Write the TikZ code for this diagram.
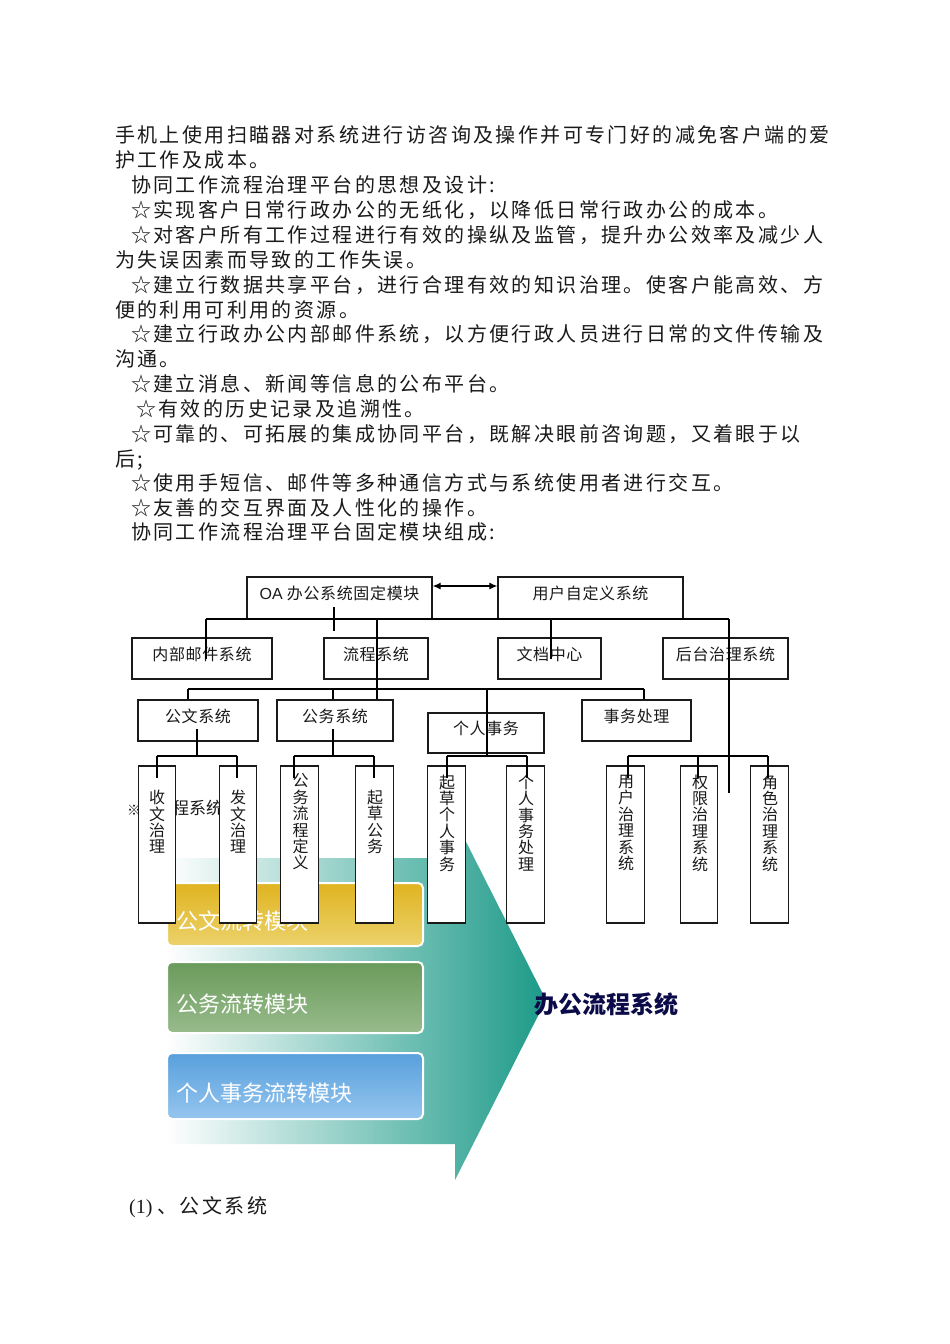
\documentclass[tikz,border=0pt]{standalone}
\usepackage{fontspec}
\setmainfont{Liberation Serif}
\newfontfamily\bodyfont[LetterSpace=12]{Noto Sans CJK SC}
\newfontfamily\chartfont[LetterSpace=4]{Noto Sans CJK SC}
\newfontfamily\cjk{Noto Sans CJK SC}
\newfontfamily\arialfont{Liberation Sans}
\usetikzlibrary{arrows.meta}
\definecolor{tealdark}{HTML}{1C9A88}
\definecolor{tealmid}{HTML}{86CDC3}
\definecolor{ytop}{HTML}{E0B420}
\definecolor{ybot}{HTML}{ECD26C}
\definecolor{gtop}{HTML}{6A9B5B}
\definecolor{gbot}{HTML}{98BB8C}
\definecolor{btop}{HTML}{58A0DD}
\definecolor{bbot}{HTML}{95C5EE}
\definecolor{navy}{HTML}{0B0B4A}
\definecolor{ink}{HTML}{1A1A1A}
\begin{document}
\begin{tikzpicture}[x=1pt,y=-1pt,
  body/.style={font=\bodyfont\fontsize{20}{20}\selectfont, inner sep=0, anchor=base west, text=ink},
  cbox/.style={draw=ink, line width=1.3pt, fill=white, inner sep=0,
    font=\chartfont\fontsize{16}{16}\selectfont, text=ink,
    text height=11pt, text depth=8pt},
  leaf/.style={draw=ink, line width=1.3pt, fill=white, inner sep=0,
    minimum width=37.5pt, minimum height=157pt},
  leaftext/.style={font=\cjk\fontsize{16}{16.4}\selectfont, align=center, inner sep=0, text=ink},
  conn/.style={line width=1.2pt, black},
  modbox/.style={rounded corners=5pt, draw=white, line width=2pt, minimum width=256pt,
    text width=238pt, align=left, inner xsep=9pt, inner ysep=0pt,
    font=\cjk\fontsize{22}{22}\selectfont, text=white, text height=32pt, text depth=2pt}
]
\useasboundingbox (0,0) rectangle (950,1344);
\fill[white] (0,0) rectangle (950,1344);

% ---------------- body text ----------------
\node[body] (p1) at (115,142) {手机上使用扫瞄器对系统进行访咨询及操作并可专门好的减免客户端的爱};
\node[body] (p2) at (115,167) {护工作及成本。};
\node[body] (p3) at (131,192) {协同工作流程治理平台的思想及设计:};
\node[body] (p4) at (131,217) {☆实现客户日常行政办公的无纸化，以降低日常行政办公的成本。};
\node[body] (p5) at (131,242) {☆对客户所有工作过程进行有效的操纵及监管，提升办公效率及减少人};
\node[body] (p6) at (115,267) {为失误因素而导致的工作失误。};
\node[body] (p7) at (131,292) {☆建立行数据共享平台，进行合理有效的知识治理。使客户能高效、方};
\node[body] (p8) at (115,317) {便的利用可利用的资源。};
\node[body] (p9) at (131,341) {☆建立行政办公内部邮件系统，以方便行政人员进行日常的文件传输及};
\node[body] (p10) at (115,366) {沟通。};
\node[body] (p11) at (131,391) {☆建立消息、新闻等信息的公布平台。};
\node[body] (p12) at (136,416) {☆有效的历史记录及追溯性。};
\node[body] (p13) at (131,441) {☆可靠的、可拓展的集成协同平台，既解决眼前咨询题，又着眼于以};
\node[body] (p14) at (115,466) {后;};
\node[body] (p15) at (131,490) {☆使用手短信、邮件等多种通信方式与系统使用者进行交互。};
\node[body] (p16) at (131,515) {☆友善的交互界面及人性化的操作。};
\node[body] (p17) at (131,539) {协同工作流程治理平台固定模块组成:};

% ---------------- arrow graphic ----------------
\shade[left color=white, middle color=tealmid, right color=tealdark]
  (166,858) -- (455,858) -- (455,820) -- (546,1000) -- (455,1180) -- (455,1144) -- (166,1144) -- cycle;
\node[modbox, top color=ytop, bottom color=ybot, minimum height=63pt] (m1) at (295,914.5) {公文流转模块};
\node[modbox, top color=gtop, bottom color=gbot, minimum height=71pt] (m2) at (295,997.5) {公务流转模块};
\node[modbox, top color=btop, bottom color=bbot, minimum height=66pt] (m3) at (295,1086) {个人事务流转模块};
\node[font=\cjk\bfseries\fontsize{24}{24}\selectfont, text=navy, inner sep=0] (title) at (606,1004) {办公流程系统};

% text partly hidden behind the chart
\node[font=\cjk\bfseries\fontsize{14}{14}\selectfont, inner sep=0, text=ink] (xing) at (134,810) {※};
\node[font=\cjk\fontsize{17}{17}\selectfont, inner sep=0, anchor=west, text=ink] (lcxt) at (155,808) {流程系统};

% ---------------- org chart boxes ----------------
\node[cbox, minimum width=185pt, minimum height=42pt] (oa) at (339.5,598) {{\arialfont OA} 办公系统固定模块};
\node[cbox, minimum width=185pt, minimum height=42pt] (user) at (590.5,598) {用户自定义系统};
\node[cbox, minimum width=140pt, minimum height=41pt] (mail) at (202,658.5) {内部邮件系统};
\node[cbox, minimum width=104pt, minimum height=41pt] (flow) at (376,658.5) {流程系统};
\node[cbox, minimum width=103pt, minimum height=41pt] (doc) at (549.5,658.5) {文档中心};
\node[cbox, minimum width=125pt, minimum height=41pt] (back) at (725.5,658.5) {后台治理系统};
\node[cbox, minimum width=120pt, minimum height=41pt] (gw) at (198,720.5) {公文系统};
\node[cbox, minimum width=116pt, minimum height=41pt] (gwu) at (335,720.5) {公务系统};
\node[cbox, minimum width=116pt, minimum height=40pt] (per) at (486,733) {个人事务};
\node[cbox, minimum width=109pt, minimum height=41pt] (sw) at (636.5,720.5) {事务处理};

\node[leaf] (l1) at (157,844.5) {};
\node[leaf] (l2) at (238,844.5) {};
\node[leaf] (l3) at (299.5,844.5) {};
\node[leaf] (l4) at (374.5,844.5) {};
\node[leaf] (l5) at (446.5,844.5) {};
\node[leaf] (l6) at (525.5,844.5) {};
\node[leaf] (l7) at (625.5,844.5) {};
\node[leaf] (l8) at (699,844.5) {};
\node[leaf] (l9) at (769.5,844.5) {};
\node[leaftext] (lt1) at (157,822) {收\\文\\治\\理};
\node[leaftext] (lt2) at (238,822) {发\\文\\治\\理};
\node[leaftext] (lt3) at (300.5,822) {公\\务\\流\\程\\定\\义};
\node[leaftext] (lt4) at (375,822) {起\\草\\公\\务};
\node[leaftext] (lt5) at (447,823) {起\\草\\个\\人\\事\\务};
\node[leaftext] (lt6) at (526,823) {个\\人\\事\\务\\处\\理};
\node[leaftext] (lt7) at (626,823) {用\\户\\治\\理\\系\\统};
\node[leaftext] (lt8) at (700,823) {权\\限\\治\\理\\系\\统};
\node[leaftext] (lt9) at (770,823) {角\\色\\治\\理\\系\\统};

% ---------------- connectors ----------------
\draw[conn, {Latex[length=8pt,width=7pt]}-{Latex[length=8pt,width=7pt]}]
  ([yshift=12pt]oa.east) -- ([yshift=12pt]user.west);

\coordinate (A1) at (206,619);
\coordinate (A2) at (729,619);
\coordinate (A3) at (551,619);
\coordinate (A4) at (377,619);
\coordinate (A5) at (729,793);
\coordinate (T1) at (334,607);
\coordinate (T2) at (334,631);
\draw[conn] (A1) -- (A2);
\draw[conn] (A1) -- (A1 |- mail.center);
\draw[conn] (A3) -- (A3 |- doc.center);
\draw[conn] (A4) -- (A4 |- gwu.north);
\draw[conn] (A2) -- (A5);
\draw[conn] (T1) -- (T2);

\coordinate (B1) at (188,689);
\coordinate (B2) at (644,689);
\coordinate (B3) at (333,689);
\coordinate (B4) at (487,689);
\draw[conn] (B1) -- (B2);
\draw[conn] (B1) -- (B1 |- gw.north);
\draw[conn] (B3) -- (B3 |- gwu.north);
\draw[conn] (B2) -- (B2 |- sw.north);

% forks
\coordinate (C1a) at (197,729); \coordinate (C1) at (197,756);
\coordinate (C1l) at (157,756); \coordinate (C1r) at (237,756);
\coordinate (D1l) at (157,778); \coordinate (D1r) at (237,778);
\draw[conn] (C1a) -- (C1);
\draw[conn] (C1l) -- (C1r);
\draw[conn] (C1l) -- (D1l);
\draw[conn] (C1r) -- (D1r);

\coordinate (C2a) at (333,729); \coordinate (C2) at (333,756);
\coordinate (C2l) at (294,756); \coordinate (C2r) at (374,756);
\coordinate (D2l) at (294,778); \coordinate (D2r) at (374,778);
\draw[conn] (C2a) -- (C2);
\draw[conn] (C2l) -- (C2r);
\draw[conn] (C2l) -- (D2l);
\draw[conn] (C2r) -- (D2r);

\coordinate (C3) at (487,756);
\coordinate (C3l) at (447,756); \coordinate (C3r) at (527,756);
\coordinate (D3l) at (447,778); \coordinate (D3r) at (527,778);
\draw[conn] (B4) -- (C3);
\draw[conn] (C3l) -- (C3r);
\draw[conn] (C3l) -- (D3l);
\draw[conn] (C3r) -- (D3r);

\coordinate (C4l) at (628,756); \coordinate (C4m) at (698,756); \coordinate (C4r) at (768,756);
\coordinate (D4l) at (628,778); \coordinate (D4m) at (698,778); \coordinate (D4r) at (768,778);
\draw[conn] (C4l) -- (C4r);
\draw[conn] (C4l) -- (D4l);
\draw[conn] (C4m) -- (D4m);
\draw[conn] (C4r) -- (D4r);

% ---------------- section heading ----------------
\node[inner sep=0, anchor=base west, text=ink] (sec) at (129,1213)
  {\fontsize{20}{20}\selectfont (1)\hspace{5pt}\bodyfont\fontsize{20}{20}\selectfont 、公文系统};
\end{tikzpicture}
\end{document}
